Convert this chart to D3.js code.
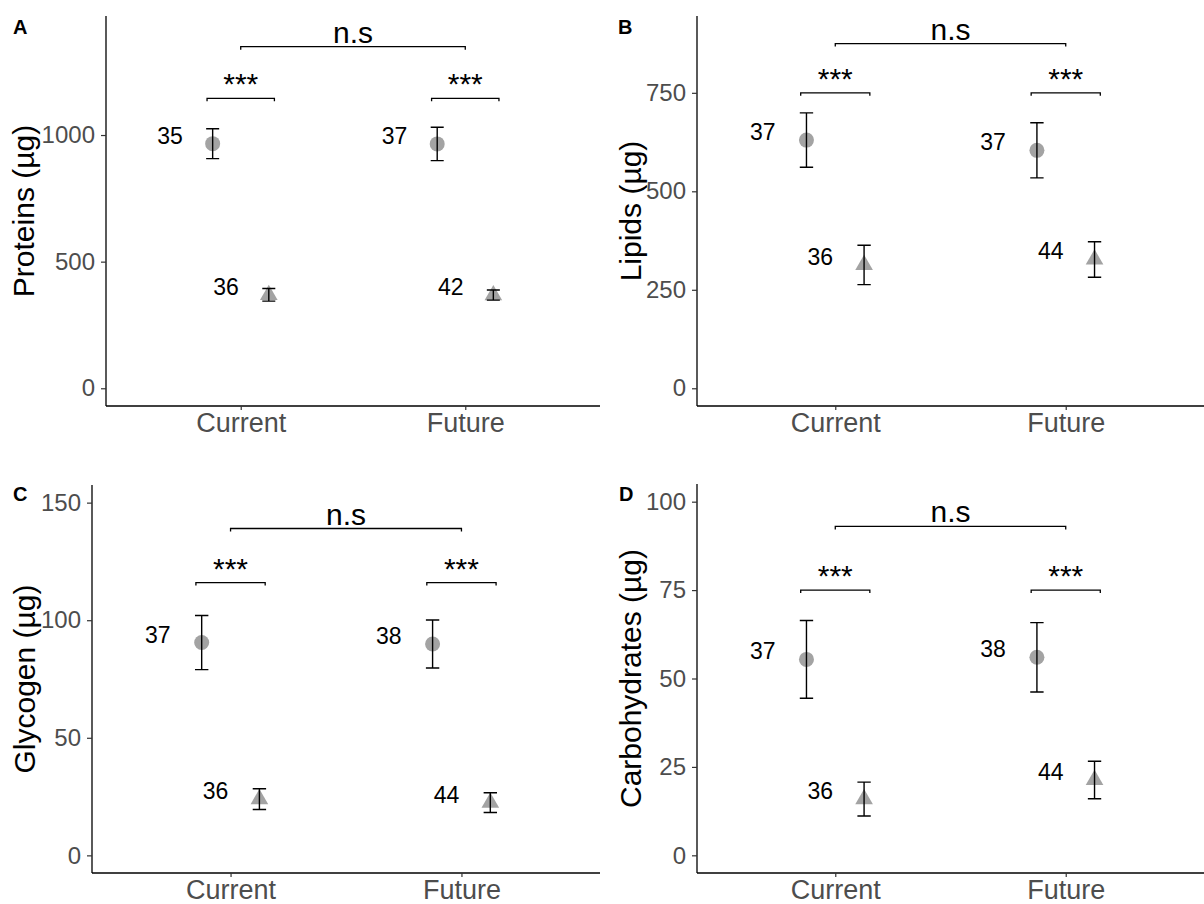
<!DOCTYPE html>
<html>
<head>
<meta charset="utf-8">
<script src="https://cdn.jsdelivr.net/npm/d3@7"></script>
<style>
  html, body { margin: 0; padding: 0; background: #fff; }
  svg { display: block; font-family: "Liberation Sans", Arial, Helvetica, sans-serif; }
</style>
</head>
<body>
<svg id="chart" width="1204" height="904"></svg>
<script>
// ---------- data ----------
const categories = ["Current", "Future"];

// Panel A - Proteins
const proteinsCircleMean = [966, 965];
const proteinsCircleSE = [59, 66];
const proteinsTriangleMean = [369, 368];
const proteinsTriangleSE = [25, 20];
const proteinsCircleN = [35, 37];
const proteinsTriangleN = [36, 42];
const proteinsTicks = [0, 500, 1000];
const proteinsSigY = [1145, 1349];

// Panel B - Lipids
const lipidsCircleMean = [630, 604];
const lipidsCircleSE = [69, 70];
const lipidsTriangleMean = [313, 327];
const lipidsTriangleSE = [50, 45];
const lipidsCircleN = [37, 37];
const lipidsTriangleN = [36, 44];
const lipidsTicks = [0, 250, 500, 750];
const lipidsSigY = [750, 875];

// Panel C - Glycogen
const glycogenCircleMean = [90.5, 89.9];
const glycogenCircleSE = [11.5, 10.2];
const glycogenTriangleMean = [23.9, 22.4];
const glycogenTriangleSE = [4.4, 4.2];
const glycogenCircleN = [37, 38];
const glycogenTriangleN = [36, 44];
const glycogenTicks = [0, 50, 100, 150];
const glycogenSigY = [116, 139];

// Panel D - Carbohydrates
const carbsCircleMean = [55.4, 56.0];
const carbsCircleSE = [11.0, 9.8];
const carbsTriangleMean = [15.9, 21.3];
const carbsTriangleSE = [4.8, 5.3];
const carbsCircleN = [37, 38];
const carbsTriangleN = [36, 44];
const carbsTicks = [0, 25, 50, 75, 100];
const carbsSigY = [75, 93];

const sigLabels = ["***", "n.s"];

// ---------- drawing ----------
const svg = d3.select("#chart");
const FONT = "'Liberation Sans', Arial, Helvetica, sans-serif";
const pointColor = "#a3a3a3";

function drawPanel(cfg) {
  const g = svg.append("g");
  const x = d3.scalePoint().domain(categories).range([cfg.left, cfg.right]).padding(0.6);
  const step = x.step();
  const pad = (cfg.yMax - cfg.yMin) * 0.05;
  const y = d3.scaleLinear().domain([cfg.yMin - pad, cfg.yMax + pad]).range([cfg.bottom, cfg.top]);

  // axes
  const yAxis = d3.axisLeft(y).tickValues(cfg.ticks).tickSize(5).tickPadding(6).tickFormat(d3.format("d"));
  const ya = g.append("g").attr("transform", `translate(${cfg.left},0)`).call(yAxis);
  ya.select(".domain").attr("stroke", "#000").attr("stroke-width", 1.3).attr("d", `M0,${cfg.top}V${cfg.bottom}`);
  ya.selectAll(".tick line").attr("stroke", "#333").attr("stroke-width", 1.2);
  ya.selectAll(".tick text").attr("fill", "#4d4d4d").style("font-size", "24px").style("font-family", FONT);

  const xAxis = d3.axisBottom(x).tickSize(4).tickPadding(8);
  const xa = g.append("g").attr("transform", `translate(0,${cfg.bottom})`).call(xAxis);
  xa.select(".domain").attr("stroke", "#000").attr("stroke-width", 1.3).attr("d", `M${cfg.left},0H${cfg.right}`);
  xa.selectAll(".tick line").attr("stroke", "#333").attr("stroke-width", 1.2);
  xa.selectAll(".tick text").attr("fill", "#4d4d4d").style("font-size", "27px").style("font-family", FONT)
    .attr("dy", null).attr("y", 25.5).style("dominant-baseline", "alphabetic");

  // y title
  g.append("text")
    .attr("transform", `translate(${cfg.titleX},${(cfg.top + cfg.bottom) / 2}) rotate(-90)`)
    .attr("text-anchor", "middle")
    .style("font-size", "30px").style("font-family", FONT).attr("fill", "#000")
    .text(cfg.title);

  // panel tag
  g.append("text").attr("x", cfg.tagX).attr("y", cfg.tagY)
    .style("font-size", "20px").style("font-weight", "bold").style("font-family", FONT)
    .text(cfg.tag);

  const groups = [
    { mean: cfg.circleMean, se: cfg.circleSE, n: cfg.circleN, off: -0.125, shape: "circle" },
    { mean: cfg.triMean, se: cfg.triSE, n: cfg.triN, off: 0.125, shape: "triangle" }
  ];

  groups.forEach(gr => {
    const data = categories.map((c, i) => ({ c, m: gr.mean[i], se: gr.se[i], n: gr.n[i] }));
    const px = d => x(d.c) + gr.off * step;
    // points
    if (gr.shape === "circle") {
      g.selectAll(null).data(data).enter().append("circle")
        .attr("cx", px).attr("cy", d => y(d.m)).attr("r", 7.5).attr("fill", pointColor);
    } else {
      const tri = d3.symbol().type(d3.symbolTriangle).size(135);
      g.selectAll(null).data(data).enter().append("path")
        .attr("d", tri).attr("transform", d => `translate(${px(d)},${y(d.m)})`).attr("fill", pointColor);
    }
    // error bars
    const cap = 0.029 * step;
    g.selectAll(null).data(data).enter().append("path")
      .attr("d", d => {
        const cx = px(d), y1 = y(d.m + d.se), y0 = y(d.m - d.se);
        return `M${cx - cap},${y1}H${cx + cap}M${cx},${y1}V${y0}M${cx - cap},${y0}H${cx + cap}`;
      })
      .attr("fill", "none").attr("stroke", "#000").attr("stroke-width", 1.4);
    // n labels
    g.selectAll(null).data(data).enter().append("text")
      .attr("x", d => px(d) - 0.19 * step).attr("y", d => y(d.m))
      .attr("text-anchor", "middle").style("font-size", "23px").style("font-family", FONT)
      .text(d => d.n);
  });

  // significance brackets
  const tip = 3;
  const bracket = (x1, x2, yv, label) => {
    const yy = y(yv);
    g.append("path").attr("d", `M${x1},${yy + tip}V${yy}H${x2}V${yy + tip}`)
      .attr("fill", "none").attr("stroke", "#000").attr("stroke-width", 1.3);
    g.append("text").attr("x", (x1 + x2) / 2).attr("y", yy - 4)
      .attr("text-anchor", "middle").style("font-size", "30px").style("font-family", FONT)
      .text(label);
  };
  categories.forEach(c => bracket(x(c) - 0.15 * step, x(c) + 0.15 * step, cfg.sigY[0], sigLabels[0]));
  bracket(x(categories[0]), x(categories[1]), cfg.sigY[1], sigLabels[1]);
}

drawPanel({ tag: "A", tagX: 13, tagY: 34, title: "Proteins (µg)", titleX: 34,
  left: 106, right: 600, top: 16, bottom: 406, yMin: 0, yMax: 1400, ticks: proteinsTicks,
  circleMean: proteinsCircleMean, circleSE: proteinsCircleSE, circleN: proteinsCircleN,
  triMean: proteinsTriangleMean, triSE: proteinsTriangleSE, triN: proteinsTriangleN, sigY: proteinsSigY });

drawPanel({ tag: "B", tagX: 618, tagY: 34, title: "Lipids (µg)", titleX: 641,
  left: 697, right: 1204, top: 16, bottom: 406, yMin: 0, yMax: 900, ticks: lipidsTicks,
  circleMean: lipidsCircleMean, circleSE: lipidsCircleSE, circleN: lipidsCircleN,
  triMean: lipidsTriangleMean, triSE: lipidsTriangleSE, triN: lipidsTriangleN, sigY: lipidsSigY });

drawPanel({ tag: "C", tagX: 13, tagY: 501, title: "Glycogen (µg)", titleX: 35,
  left: 92, right: 600, top: 485, bottom: 873, yMin: 0, yMax: 150, ticks: glycogenTicks,
  circleMean: glycogenCircleMean, circleSE: glycogenCircleSE, circleN: glycogenCircleN,
  triMean: glycogenTriangleMean, triSE: glycogenTriangleSE, triN: glycogenTriangleN, sigY: glycogenSigY });

drawPanel({ tag: "D", tagX: 619, tagY: 501, title: "Carbohydrates (µg)", titleX: 641,
  left: 697, right: 1204, top: 484, bottom: 873, yMin: 0, yMax: 100, ticks: carbsTicks,
  circleMean: carbsCircleMean, circleSE: carbsCircleSE, circleN: carbsCircleN,
  triMean: carbsTriangleMean, triSE: carbsTriangleSE, triN: carbsTriangleN, sigY: carbsSigY });
</script>
</body>
</html>
